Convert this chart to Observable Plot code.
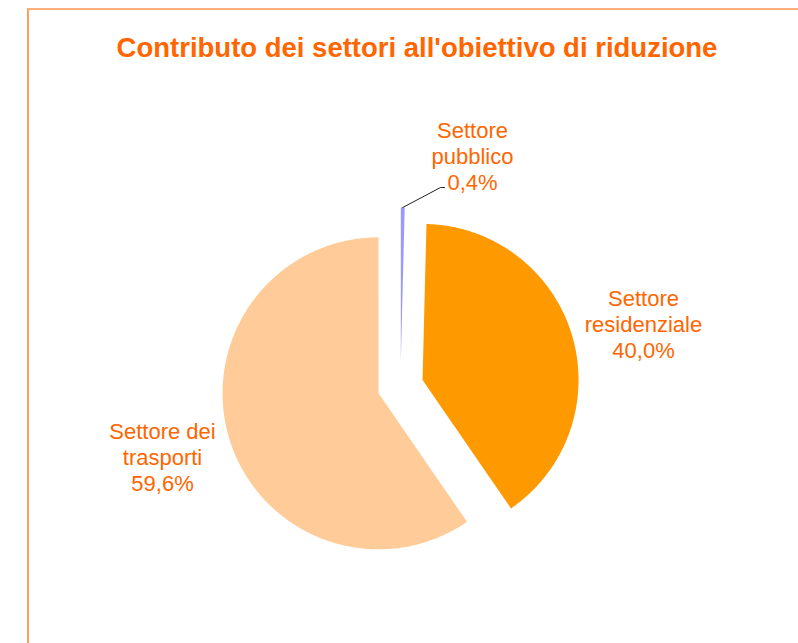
<!DOCTYPE html>
<html><head><meta charset="utf-8">
<script src="https://cdn.jsdelivr.net/npm/d3@7"></script>
<script src="https://cdn.jsdelivr.net/npm/@observablehq/plot@0.6"></script>
<style>
html,body{margin:0;padding:0;background:#fff;overflow:hidden;width:798px;height:643px}
#frame{position:absolute;left:27px;top:8px;width:900px;height:800px;border-left:2px solid #FF9F5F;border-top:2px solid #FFB07A;box-sizing:border-box}
#chart{position:absolute;left:0;top:0}
#title{position:absolute;left:0;width:834px;top:34px;text-align:center;font-family:"Liberation Sans",Arial,sans-serif;font-weight:bold;font-size:27.5px;line-height:28px;color:#FF6600;white-space:nowrap}
</style></head><body>
<div id="frame"></div>
<div id="chart"></div>
<div id="title">Contributo dei settori all'obiettivo di riduzione</div>
<script>
// ---- data ----
const sectors = ["Settore pubblico", "Settore residenziale", "Settore dei trasporti"];
const labelNames = ["Settore\npubblico", "Settore\nresidenziale", "Settore dei\ntrasporti"];
const shares = [0.4, 40.0, 59.6];
const sliceColors = ["#9999FF", "#FF9900", "#FFCC99"];

// ---- layout (radius units; pie radius = 1, center = 0,0, y up) ----
const R = 156, CX = 400, CY = 386, W = 798, H = 643;
const explode = 23 / R;
const labelAt = [[72 / R, (CY - 155) / R], [243 / R, (CY - 323) / R], [-238 / R, (CY - 456) / R]];
const leaderElbow = [[40 / R, (CY - 187) / R], [44 / R, (CY - 187) / R]];

const fmt = v => d3.format(".1f")(v).replace(".", ",") + "%";
const total = d3.sum(shares);
let acc = 0;
const slices = shares.map((v, i) => {
  const a0 = acc / total * 2 * Math.PI; acc += v;
  const a1 = acc / total * 2 * Math.PI;
  return {sector: sectors[i], a0, a1, mid: (a0 + a1) / 2, value: v};
});
const pts = [];
for (const s of slices) {
  const ox = explode * Math.sin(s.mid), oy = explode * Math.cos(s.mid);
  pts.push({sector: s.sector, x: ox, y: oy});
  const n = Math.max(2, Math.ceil((s.a1 - s.a0) / (Math.PI / 360)));
  for (let k = 0; k <= n; k++) {
    const a = s.a0 + (s.a1 - s.a0) * k / n;
    pts.push({sector: s.sector, x: ox + Math.sin(a), y: oy + Math.cos(a)});
  }
  pts.push({sector: s.sector, x: ox, y: oy});
}
const labels = slices.map((s, i) => ({x: labelAt[i][0], y: labelAt[i][1], text: labelNames[i] + "\n" + fmt(s.value)}));
const p0 = slices[0];
const leader = [
  {x: (1 + explode) * Math.sin(p0.mid), y: (1 + explode) * Math.cos(p0.mid)},
  {x: leaderElbow[0][0], y: leaderElbow[0][1]},
  {x: leaderElbow[1][0], y: leaderElbow[1][1]}
];

const chart = Plot.plot({
  width: W, height: H,
  marginLeft: 0, marginRight: 0, marginTop: 0, marginBottom: 0,
  x: {domain: [-CX / R, (W - CX) / R], axis: null},
  y: {domain: [-(H - CY) / R, CY / R], axis: null},
  color: {domain: sectors, range: sliceColors},
  style: {background: "transparent", overflow: "visible"},
  marks: [
    Plot.line(pts, {x: "x", y: "y", z: "sector", fill: "sector", stroke: "none", curve: "linear"}),
    Plot.line(leader, {x: "x", y: "y", stroke: "#222", strokeWidth: 1}),
    Plot.text(labels, {x: "x", y: "y", text: "text", fill: "#FF6600", fontSize: 22, lineHeight: 1.18,
      fontFamily: "Liberation Sans, Arial, sans-serif", textAnchor: "middle"})
  ]
});
document.getElementById("chart").appendChild(chart);
</script>
</body></html>
